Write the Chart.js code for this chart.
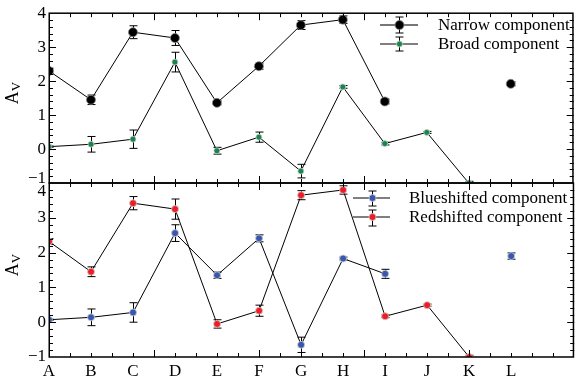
<!DOCTYPE html>
<html>
<head>
<meta charset="utf-8">
<script src="https://cdn.jsdelivr.net/npm/chart.js@4/dist/chart.umd.min.js"></script>
<style>
  html, body { margin: 0; background: #fff; }
  #wrap { position: relative; width: 579px; height: 381px; }
  #wrap canvas { position: absolute; left: 0; top: 0; }
</style>
</head>
<body>
<div id="wrap">
  <canvas id="upper" width="579" height="381"></canvas>
  <canvas id="lower" width="579" height="381"></canvas>
</div>
<script>
const categories = ['A', 'B', 'C', 'D', 'E', 'F', 'G', 'H', 'I', 'J', 'K', 'L'];

// A_V per object, with 1-sigma errors
const narrow    = [2.30, 1.45, 3.44, 3.27, 1.36, 2.44, 3.65, 3.81, 1.40, null, null, 1.92];
const narrowErr = [0.08, 0.14, 0.19, 0.22, 0.06, 0.09, 0.13, 0.11, 0.07, null, null, 0.06];
const broad     = [0.07, 0.14, 0.29, 2.56, -0.05, 0.35, -0.65, 1.83, 0.16, 0.49, -1.00, null];
const broadErr  = [0.02, 0.23, 0.27, 0.29, 0.10, 0.15, 0.20, 0.04, 0.04, 0.03, 0.05, null];

const blueshifted    = [0.07, 0.14, 0.28, 2.56, 1.35, 2.41, -0.65, 1.83, 1.39, null, null, 1.90];
const blueshiftedErr = [0.02, 0.24, 0.28, 0.24, 0.09, 0.10, 0.22, 0.04, 0.13, null, null, 0.09];
const redshifted     = [2.32, 1.45, 3.42, 3.25, -0.05, 0.33, 3.65, 3.80, 0.17, 0.49, -1.00, null];
const redshiftedErr  = [0.08, 0.14, 0.19, 0.29, 0.12, 0.16, 0.13, 0.12, 0.04, 0.03, 0.05, null];

const FONT = '"Liberation Serif", "Times New Roman", serif';
const toPoints = arr => arr.map((v, i) => ({ x: i, y: v }));
const fmt = v => (v < 0 ? '\u2212' + (-v) : String(v));

function series(label, values, errors, color, radius) {
  return {
    label,
    data: toPoints(values),
    errors,
    borderColor: '#000',
    borderWidth: 1,
    pointRadius: radius,
    pointBackgroundColor: color,
    pointBorderColor: color === '#000' ? '#888' : '#cfcfcf',
    pointBorderWidth: 0.8,
    spanGaps: false,
    clip: 0
  };
}

// frame, inward ticks, error bars, legend and the A_V title
const panelDecor = {
  id: 'panelDecor',
  beforeDatasetsDraw(chart) {
    const { ctx, chartArea: a, scales: { x, y } } = chart;
    ctx.save();
    ctx.beginPath();
    ctx.rect(a.left, a.top, a.right - a.left, a.bottom - a.top);
    ctx.clip();
    ctx.strokeStyle = '#000';
    ctx.lineWidth = 1;
    chart.data.datasets.forEach(ds => {
      ds.data.forEach((p, i) => {
        const e = ds.errors[i];
        if (p.y == null || e == null) return;
        const px = Math.round(x.getPixelForValue(p.x)) + 0.5;
        const lo = y.getPixelForValue(p.y - e);
        const hi = y.getPixelForValue(p.y + e);
        ctx.beginPath();
        ctx.moveTo(px, lo); ctx.lineTo(px, hi);
        ctx.moveTo(px - 4, lo); ctx.lineTo(px + 4, lo);
        ctx.moveTo(px - 4, hi); ctx.lineTo(px + 4, hi);
        ctx.stroke();
      });
    });
    ctx.restore();
  },
  afterDraw(chart, args, opts) {
    const { ctx, chartArea: a, scales: { x, y } } = chart;
    ctx.save();
    ctx.strokeStyle = '#000';

    // tick marks on all four sides
    ctx.lineWidth = 1;
    ctx.beginPath();
    for (let k = 1; k < 25; k++) {
      const px = Math.round(x.getPixelForValue(k * 0.5)) + 0.5;
      const len = k % 5 === 0 ? 7 : 4;
      ctx.moveTo(px, a.bottom); ctx.lineTo(px, a.bottom - len);
      ctx.moveTo(px, a.top); ctx.lineTo(px, a.top + len);
    }
    for (let k = -4; k < 20; k++) {
      const py = Math.round(y.getPixelForValue(k / 5)) + 0.5;
      const len = k % 5 === 0 ? 7 : 4;
      ctx.moveTo(a.left, py); ctx.lineTo(a.left + len, py);
      ctx.moveTo(a.right, py); ctx.lineTo(a.right - len, py);
    }
    ctx.stroke();

    ctx.lineWidth = 1.5;
    ctx.strokeRect(a.left + 0.25, a.top, a.right - a.left - 1, a.bottom - a.top);

    ctx.fillStyle = '#000';

    // tick label at the shared edge, moved off the neighbouring panel's label
    const edge = opts.edgeLabel;
    ctx.font = `17px ${FONT}`;
    ctx.textAlign = 'right';
    ctx.textBaseline = 'middle';
    ctx.fillText(fmt(edge.value), a.left - 3, y.getPixelForValue(edge.value) + edge.dy);

    // legend
    ctx.textAlign = 'left';
    opts.legend.forEach(item => {
      const ds = chart.data.datasets[item.ds];
      const [x0, x1] = item.line;
      const xm = (x0 + x1) / 2;
      ctx.strokeStyle = item.lineColor;
      ctx.lineWidth = item.lineWidth;
      ctx.beginPath();
      ctx.moveTo(x0, item.y); ctx.lineTo(x1, item.y);
      ctx.stroke();
      ctx.strokeStyle = '#000';
      ctx.lineWidth = 1;
      const cx = Math.round(xm) + 0.5;
      ctx.beginPath();
      ctx.moveTo(cx, item.err[0]); ctx.lineTo(cx, item.err[1]);
      ctx.moveTo(cx - 4, item.err[0]); ctx.lineTo(cx + 4, item.err[0]);
      ctx.moveTo(cx - 4, item.err[1]); ctx.lineTo(cx + 4, item.err[1]);
      ctx.stroke();
      ctx.beginPath();
      ctx.arc(cx, item.y, ds.pointRadius, 0, Math.PI * 2);
      ctx.fillStyle = ds.pointBackgroundColor;
      ctx.fill();
      ctx.strokeStyle = ds.pointBorderColor;
      ctx.lineWidth = ds.pointBorderWidth;
      ctx.stroke();
      ctx.fillStyle = '#000';
      ctx.font = `17px ${FONT}`;
      ctx.fillText(ds.label, opts.textX, item.y + 1);
    });

    // y title: A with subscript V
    ctx.translate(18, (a.top + a.bottom) / 2 - 5);
    ctx.rotate(-Math.PI / 2);
    ctx.textBaseline = 'alphabetic';
    ctx.font = `18px ${FONT}`;
    const wA = ctx.measureText('A').width;
    ctx.font = `13px ${FONT}`;
    const wV = ctx.measureText('V').width;
    const t0 = -(wA + wV) / 2;
    ctx.font = `18px ${FONT}`;
    ctx.fillText('A', t0, 0);
    ctx.font = `13px ${FONT}`;
    ctx.fillText('V', t0 + wA, 2);
    ctx.restore();
  }
};

function panelScales(showX, hiddenY) {
  return {
    x: {
      type: 'linear', min: 0, max: 12.5,
      afterFit: s => { s.height = showX ? 24 : 0; },
      grid: { display: false, drawTicks: false },
      border: { display: false },
      ticks: {
        display: showX, stepSize: 0.5, autoSkip: false, maxRotation: 0, padding: 4,
        color: '#000', font: { family: FONT, size: 17 },
        callback: v => (Number.isInteger(v) && v < categories.length ? categories[v] : '')
      }
    },
    y: {
      min: -1, max: 4,
      afterFit: s => { s.width = 49; },
      grid: { display: false, drawTicks: false },
      border: { display: false },
      ticks: {
        stepSize: 1, padding: 3, color: '#000', font: { family: FONT, size: 17 },
        callback: v => (v === hiddenY ? '' : fmt(v))
      }
    }
  };
}

function makePanel(id, datasets, padding, showX, hiddenY, decor) {
  return new Chart(document.getElementById(id), {
    type: 'line',
    data: { datasets },
    options: {
      responsive: false,
      animation: false,
      layout: { padding },
      scales: panelScales(showX, hiddenY),
      plugins: { legend: { display: false }, tooltip: { enabled: false }, panelDecor: decor }
    },
    plugins: [panelDecor]
  });
}

makePanel('upper', [
  series('Narrow component', narrow, narrowErr, '#000', 4.5),
  series('Broad component', broad, broadErr, '#15874a', 3)
], { top: 10, right: 0, bottom: 198, left: 0 }, false, -1, {
  edgeLabel: { value: -1, dy: -4 },
  textX: 438,
  legend: [
    { ds: 0, y: 25, line: [380, 418], lineColor: '#777', lineWidth: 2, err: [17, 33] },
    { ds: 1, y: 44, line: [380, 418], lineColor: '#000', lineWidth: 1, err: [37, 51] }
  ]
});

makePanel('lower', [
  series('Blueshifted component', blueshifted, blueshiftedErr, '#3a57b0', 3.5),
  series('Redshifted component', redshifted, redshiftedErr, '#ee1c25', 3.5)
], { top: 183, right: 0, bottom: 0, left: 0 }, true, 4, {
  edgeLabel: { value: 4, dy: 9 },
  textX: 409,
  legend: [
    { ds: 0, y: 198, line: [353, 390], lineColor: '#000', lineWidth: 1, err: [191, 206] },
    { ds: 1, y: 217, line: [353, 390], lineColor: '#000', lineWidth: 1, err: [210, 226] }
  ]
});
</script>
</body>
</html>
